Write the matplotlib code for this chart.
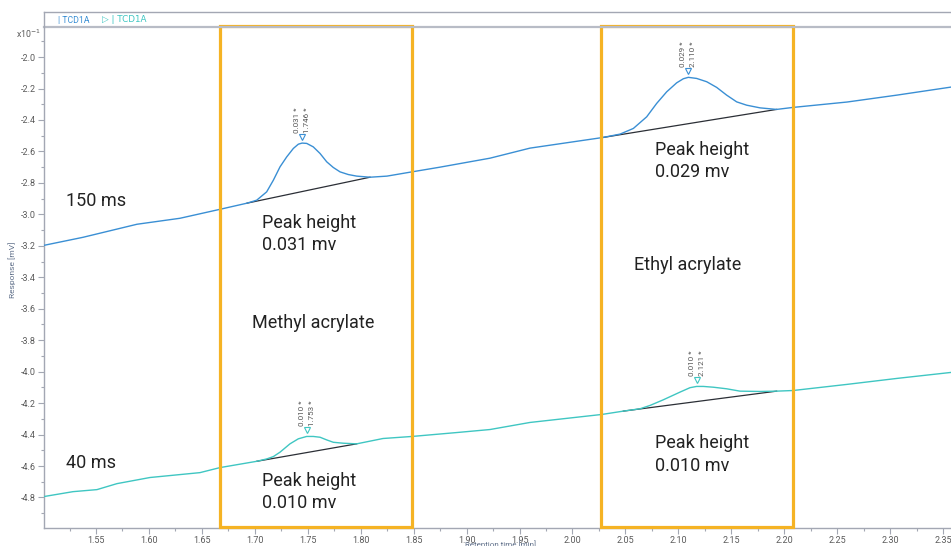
import numpy as np
import matplotlib.pyplot as plt
from matplotlib.lines import Line2D
from matplotlib.patches import Rectangle
import matplotlib.transforms as mtransforms
from matplotlib.ticker import MultipleLocator, FormatStrFormatter

plt.rcParams['font.family'] = ['Roboto', 'DejaVu Sans']

# TCD1A, 150 ms sampling (upper trace), response in x10^-1 mV
t_150 = [1.5009, 1.5377, 1.5887, 1.6293, 1.6671, 1.6926, 1.7018, 1.7112, 1.7175,
         1.7238, 1.7301, 1.7364, 1.7411, 1.7446, 1.7490, 1.7552, 1.7616, 1.7679,
         1.7741, 1.7805, 1.7883, 1.7962, 1.8088, 1.8248, 1.8466, 1.8749, 1.9221,
         1.9599, 2.0291, 2.0449, 2.0575, 2.0701, 2.0795, 2.0890, 2.0984, 2.1047,
         2.1094, 2.1173, 2.1268, 2.1362, 2.1456, 2.1551, 2.1645, 2.1771, 2.1928,
         2.2086, 2.2593, 2.3065, 2.3575]
r_150 = [-3.197, -3.146, -3.063, -3.025, -2.968, -2.929, -2.910, -2.857, -2.783,
         -2.698, -2.635, -2.581, -2.554, -2.547, -2.549, -2.571, -2.613, -2.666,
         -2.702, -2.730, -2.747, -2.757, -2.764, -2.757, -2.732, -2.700, -2.643,
         -2.579, -2.511, -2.490, -2.454, -2.380, -2.295, -2.221, -2.164, -2.138,
         -2.129, -2.136, -2.157, -2.193, -2.242, -2.285, -2.306, -2.323, -2.333,
         -2.320, -2.286, -2.242, -2.191]

# TCD1A, 40 ms sampling (lower trace)
t_40 = [1.5009, 1.5283, 1.5509, 1.5698, 1.6010, 1.6482, 1.6671, 1.7018, 1.7112,
        1.7175, 1.7238, 1.7332, 1.7411, 1.7490, 1.7552, 1.7616, 1.7679, 1.7741,
        1.7836, 1.7962, 1.8211, 1.8485, 1.8910, 1.9221, 1.9599, 2.0279, 2.0480,
        2.0638, 2.0732, 2.0858, 2.1016, 2.1110, 2.1173, 2.1236, 2.1331, 2.1456,
        2.1582, 2.1771, 2.1928, 2.2083, 2.2593, 2.3065, 2.3575]
r_40 = [-4.794, -4.763, -4.750, -4.712, -4.673, -4.642, -4.610, -4.570, -4.555,
        -4.540, -4.512, -4.459, -4.427, -4.412, -4.412, -4.417, -4.434, -4.449,
        -4.455, -4.459, -4.425, -4.412, -4.387, -4.368, -4.323, -4.272, -4.251,
        -4.236, -4.215, -4.179, -4.130, -4.102, -4.094, -4.094, -4.099, -4.109,
        -4.124, -4.126, -4.124, -4.120, -4.081, -4.043, -4.005]

# integrated peaks: apex time, baseline start, baseline end, height label, rt label
peaks_150 = [(1.7446, 1.6926, 1.8088, '0.031', '1.746'),
             (2.1094, 2.0291, 2.1928, '0.029', '2.110')]
peaks_40 = [(1.7490, 1.7018, 1.7962, '0.010', '1.753'),
            (2.1173, 2.0480, 2.1928, '0.010', '2.121')]

# highlighted compound windows [min]
windows = [(1.6671, 1.8485), (2.027, 2.2083)]

blue = '#3a8fd4'
teal = '#3fc6c2'
orange = '#f5b324'
grey = '#a3a7b3'
tick_col = '#5a5a5a'

fig = plt.figure(figsize=(9.51, 5.46), dpi=100)
ax = fig.add_axes([44 / 951, 1 - 528 / 546, 1 - 44 / 951, (528 - 27) / 546])


def idx(t, x):
    return int(np.argmin(np.abs(np.asarray(t) - x)))


for t, r, col, peaks in [(t_150, r_150, blue, peaks_150), (t_40, r_40, teal, peaks_40)]:
    ax.plot(t, r, color=col, lw=1.0, zorder=3)
    for apex, start, end, h, rt in peaks:
        ia, i0, i1 = idx(t, apex), idx(t, start), idx(t, end)
        ax.plot([t[i0], t[i1]], [r[i0], r[i1]], color='#2b2f36', lw=0.9, zorder=2)
        ym = r[ia] + 0.038
        ax.plot(t[ia], ym, marker='v', ms=5, mfc='white', mec=col, mew=0.8, zorder=4)
        for dx, s in [(-3.6, h), (3.6, rt)]:
            off = mtransforms.offset_copy(ax.transData, fig=fig, x=dx, y=3.2, units='points')
            ax.text(t[ia], ym, s + ' *', transform=off, rotation=90, fontsize=5.8,
                    color='#555555', ha='center', va='bottom')

trans = mtransforms.blended_transform_factory(ax.transData, ax.transAxes)
for x0, x1 in windows:
    ax.add_patch(Rectangle((x0, 0.002), x1 - x0, 1.0, transform=trans, fill=False,
                           ec=orange, lw=2.3, clip_on=False, zorder=5))

ax.set_xlim(1.5009, 2.3575)
ax.set_ylim(-4.994, -1.809)
ax.xaxis.set_major_locator(MultipleLocator(0.05))
ax.xaxis.set_minor_locator(MultipleLocator(0.025))
ax.yaxis.set_major_locator(MultipleLocator(0.2))
ax.yaxis.set_minor_locator(MultipleLocator(0.1))
ax.xaxis.set_major_formatter(FormatStrFormatter('%.2f'))
ax.yaxis.set_major_formatter(FormatStrFormatter('%.1f'))
ax.tick_params(which='both', colors=grey, labelcolor=tick_col, labelsize=6.5, width=0.8)
ax.tick_params(which='major', length=4, pad=2)
ax.tick_params(which='minor', length=2.5)
for s in ['right', 'top']:
    ax.spines[s].set_visible(False)
for s in ['left', 'bottom']:
    ax.spines[s].set_color(grey)
    ax.spines[s].set_linewidth(1.0)

ax.set_ylabel('Response [mV]', fontsize=6, color='#60708a')
ax.yaxis.set_label_coords(-28 / 907, 0.515)
ax.set_xlabel('Retention time [min]', fontsize=5.8, color='#60708a', va='top')
ax.xaxis.set_label_coords(0.503, -13 / 501)

# header strip with trace legend
top = 1 - 27 / 546
head = 1 - 12 / 546
x_left = 44 / 951
fig.add_artist(Line2D([x_left, 1], [top, top], color='#b8bcc6', lw=1.6))
fig.add_artist(Line2D([x_left, 1], [head, head], color=grey, lw=1.0))
fig.add_artist(Line2D([x_left, x_left], [top, head], color=grey, lw=1.0))
fig.text(58 / 951, 1 - 20 / 546, '| TCD1A', fontsize=6.3, color=blue, va='center')
fig.text(102 / 951, 1 - 20 / 546, '\u25b7 | TCD1A', fontsize=6.3, color=teal, va='center',
         family=['DejaVu Sans'])
fig.text(16 / 951, 1 - 34 / 546, 'x10$^{-1}$', fontsize=6.3, color=tick_col, va='center')

# annotations
kw = dict(fontsize=13, color='#222222', va='center', ha='left', linespacing=1.3)
ax.text(1.5217, -2.916, '150 ms', **kw)
ax.text(1.5217, -4.578, '40 ms', **kw)
ax.text(1.6973, -3.693, 'Methyl acrylate', **kw)
ax.text(2.0581, -3.324, 'Ethyl acrylate', **kw)
ax.text(1.7068, -3.127, 'Peak height\n0.031 mv', **kw)
ax.text(2.0780, -2.662, 'Peak height\n0.029 mv', **kw)
ax.text(1.7068, -4.763, 'Peak height\n0.010 mv', **kw)
ax.text(2.0780, -4.527, 'Peak height\n0.010 mv', **kw)

fig.savefig('out.png', dpi=100)
